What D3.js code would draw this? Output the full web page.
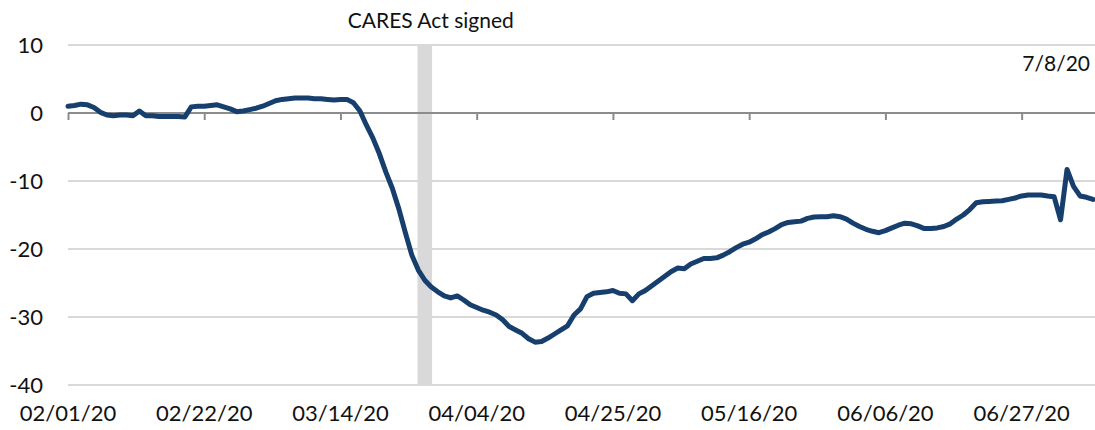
<!DOCTYPE html>
<html>
<head>
<meta charset="utf-8">
<script src="https://cdn.jsdelivr.net/npm/d3@7"></script>
<style>
  body { margin: 0; background: #ffffff; }
  text { font-family: Lato, "Noto Sans", sans-serif; fill: #111111; }
</style>
</head>
<body>
<script>

// daily index values, 02/01/20 .. 07/08/20
const startDate = "02/01/20"
const endDate = "07/08/20"
const values = [
    1.0, 1.1, 1.3, 1.2, 0.8, 0.1, -0.3, -0.4, -0.3, -0.3,
    -0.4, 0.3, -0.4, -0.4, -0.5, -0.5, -0.5, -0.5, -0.6, 0.9,
    1.0, 1.0, 1.1, 1.2, 0.9, 0.6, 0.2, 0.3, 0.5, 0.7,
    1.0, 1.4, 1.8, 2.0, 2.1, 2.2, 2.2, 2.2, 2.1, 2.1,
    2.0, 1.9, 2.0, 2.0, 1.5, 0.3, -1.8, -3.7, -6.0, -8.7,
    -11.1, -14.1, -17.6, -20.9, -23.1, -24.6, -25.6, -26.3, -26.9, -27.2,
    -26.9, -27.5, -28.2, -28.6, -29.0, -29.3, -29.7, -30.4, -31.4, -31.9,
    -32.4, -33.2, -33.7, -33.6, -33.1, -32.5, -31.9, -31.3, -29.7, -28.8,
    -27.0, -26.5, -26.4, -26.3, -26.1, -26.5, -26.6, -27.6, -26.6, -26.1,
    -25.4, -24.7, -24.0, -23.3, -22.8, -22.9, -22.2, -21.8, -21.4, -21.4,
    -21.3, -20.9, -20.4, -19.8, -19.3, -19.0, -18.5, -17.9, -17.5, -17.0,
    -16.4, -16.1, -16.0, -15.9, -15.5, -15.3, -15.25, -15.25, -15.1, -15.25,
    -15.6, -16.2, -16.7, -17.1, -17.4, -17.6, -17.3, -16.9, -16.5, -16.2,
    -16.3, -16.6, -17.0, -17.0, -16.9, -16.7, -16.3, -15.6, -15.0, -14.2,
    -13.2, -13.05, -13.0, -12.95, -12.9, -12.7, -12.5, -12.2, -12.05, -12.05,
    -12.05, -12.2, -12.3, -15.7, -8.3, -10.8, -12.2, -12.4, -12.7
]
const xTickLabels = ["02/01/20", "02/22/20", "03/14/20", "04/04/20", "04/25/20", "05/16/20", "06/06/20", "06/27/20"]
const yTicks = [10, 0, -10, -20, -30, -40]
const yDomain = [-40, 10]
const eventLabel = "CARES Act signed"
const eventDate = "03/27/20"
const lastDateLabel = "7/8/20"

window.onload = function (){

    const width = 1095
    const height = 430
    const margin = {left: 68, right: 2, top: 45, bottom: 45}

    const parse = d3.timeParse("%m/%d/%y")
    const start = parse(startDate)

    const series = values.map((v, i) => ({date: d3.timeDay.offset(start, i), value: v}))

    const svg = d3.select('body')
        .append('svg')
        .attr('width', width)
        .attr('height', height)

    const x = d3.scaleTime()
        .domain([start, parse(endDate)])
        .range([margin.left, width - margin.right])

    const y = d3.scaleLinear()
        .domain(yDomain)
        .range([height - margin.bottom, margin.top])

    // gridlines
    svg.append('g')
        .selectAll('line')
        .data(yTicks.filter(d => d !== 0))
        .join('line')
        .attr('x1', margin.left)
        .attr('x2', width)
        .attr('y1', d => y(d))
        .attr('y2', d => y(d))
        .attr('stroke', '#d9d9d9')
        .attr('stroke-width', 2)

    // y labels
    svg.append('g')
        .selectAll('text')
        .data(yTicks)
        .join('text')
        .attr('x', 43)
        .attr('y', d => y(d))
        .attr('dy', '0.36em')
        .attr('text-anchor', 'end')
        .style('font-size', '22px')
        .text(d => d)

    // event band
    const ev = parse(eventDate)
    svg.append('rect')
        .attr('x', x(d3.timeHour.offset(ev, -27)))
        .attr('width', x(d3.timeHour.offset(ev, 27)) - x(d3.timeHour.offset(ev, -27)))
        .attr('y', y(yDomain[1]))
        .attr('height', y(yDomain[0]) - y(yDomain[1]))
        .attr('fill', '#d9d9d9')

    svg.append('text')
        .attr('x', x(ev) + 6)
        .attr('y', 28)
        .attr('text-anchor', 'middle')
        .style('font-size', '21px')
        .text(eventLabel)

    // zero axis with ticks
    const xAxis = d3.axisBottom(x)
        .tickValues(xTickLabels.map(parse))
        .tickSize(7)
        .tickFormat('')

    const gAxis = svg.append('g')
        .attr('transform', getTranslateString(0, y(0)))
        .call(xAxis)
    gAxis.select('.domain').remove()
    gAxis.selectAll('line').attr('stroke', '#8c8c8c').attr('stroke-width', 2)
    gAxis.append('line')
        .attr('x1', margin.left)
        .attr('x2', width)
        .attr('stroke', '#8c8c8c')
        .attr('stroke-width', 2)

    // x labels at bottom
    svg.append('g')
        .selectAll('text')
        .data(xTickLabels)
        .join('text')
        .attr('x', d => x(parse(d)))
        .attr('y', 421)
        .attr('text-anchor', 'middle')
        .style('font-size', '22px')
        .text(d => d)

    // series line
    const line = d3.line()
        .x(d => x(d.date))
        .y(d => y(d.value))

    svg.append('path')
        .datum(series)
        .attr('d', line)
        .attr('fill', 'none')
        .attr('stroke', '#173f6d')
        .attr('stroke-width', 5)
        .attr('stroke-linejoin', 'round')
        .attr('stroke-linecap', 'round')

    svg.append('text')
        .attr('x', 1090)
        .attr('y', 71)
        .attr('text-anchor', 'end')
        .style('font-size', '21px')
        .text(lastDateLabel)

}

function getTranslateString(x, y){
    return 'translate(' + x + ',' + y + ')'
}
</script>
</body>
</html>
